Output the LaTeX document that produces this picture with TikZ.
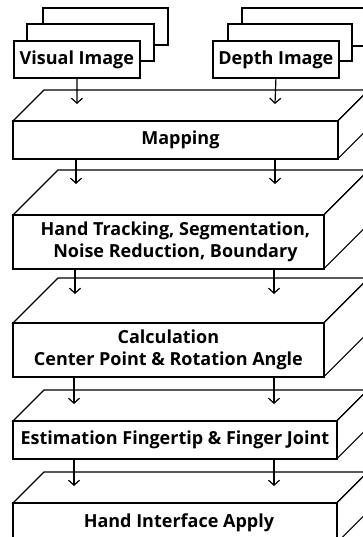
\documentclass[tikz,border=0pt]{standalone}
\usepackage{fontspec}
\setmainfont{Open Sans}
\usetikzlibrary{arrows.meta}
\begin{document}
\begin{tikzpicture}[x=1pt,y=-1pt,
  face/.style={draw=black,line width=1.6pt,fill=white,line join=miter},
  edge3d/.style={draw=black,line width=1.2pt,fill=white,line join=miter},
  front/.style={draw=black,line width=1.8pt,fill=white,inner sep=0pt,anchor=north west},
  lbl/.style={font=\fontsize{18}{21.5}\selectfont\bfseries,align=center,inner sep=0pt},
  flow/.style={draw=black,line width=1.2pt,-{Straight Barb[length=5pt,width=11pt,line width=1.2pt]}}]
\useasboundingbox (0,0) rectangle (363,537);
\clip (0,0) rectangle (363,537);
% image stacks
\draw[face] (43,8) rectangle (168,45);
\draw[face] (27,24) rectangle (154,61);
\node[front,minimum width=126pt,minimum height=37pt] (vis) at (13,40) {};
\node[lbl] at (vis.center) {Visual Image};
\draw[face] (242,8) rectangle (380,46);
\draw[face] (228,24) rectangle (352,61);
\node[front,minimum width=126pt,minimum height=37pt] (dep) at (212,40) {};
\node[lbl] at (dep.center) {Depth Image};
% 3D boxes
\foreach \n/\x/\y/\w/\h/\d in {map/13/121/323/36/31, ht/13/215/309/52/45, calc/13/323/309/52/45, est/13/421/322/36/31, hi/13/503/322/38/31}{
  \node[front,minimum width=\w pt,minimum height=\h pt] (\n) at (\x,\y) {};
  \draw[edge3d] (\n.north west) -- ++(\d,-\d) -- ([shift={(\d,-\d)}]\n.north east) -- (\n.north east) -- cycle;
  \draw[edge3d] (\n.north east) -- ++(\d,-\d) -- ([shift={(\d,-\d)}]\n.south east) -- (\n.south east) -- cycle;
  \draw[face] (\n.north west) rectangle (\n.south east);
}
\node[lbl] at ([xshift=5pt]map.center) {Mapping};
\node[lbl] at ([xshift=7pt]ht.center) {Hand Tracking, Segmentation,\\Noise Reduction, Boundary};
\node[lbl] at (calc.center) {Calculation\\Center Point \& Rotation Angle};
\node[lbl] at (est.center) {Estimation Fingertip \& Finger Joint};
\node[lbl] at ([xshift=4pt]hi.center) {Hand Interface Apply};
% arrow end points
\coordinate (m1) at (77,104);  \coordinate (m2) at (275,104);
\coordinate (h1) at (76,184);  \coordinate (h2) at (275,184);
\coordinate (c1) at (75,294);  \coordinate (c2) at (274,294);
\coordinate (e1) at (74,404);  \coordinate (e2) at (274,404);
\coordinate (i1) at (74,486);  \coordinate (i2) at (274,486);
\draw[flow] (vis.south) -- (m1);
\draw[flow] (dep.south) -- (m2);
\draw[flow] (map.south west -| h1) -- (h1);
\draw[flow] (map.south west -| h2) -- (h2);
\draw[flow] (ht.south west -| c1) -- (c1);
\draw[flow] (ht.south west -| c2) -- (c2);
\draw[flow] (calc.south west -| e1) -- (e1);
\draw[flow] (calc.south west -| e2) -- (e2);
\draw[flow] (est.south west -| i1) -- (i1);
\draw[flow] (est.south west -| i2) -- (i2);
\end{tikzpicture}
\end{document}
